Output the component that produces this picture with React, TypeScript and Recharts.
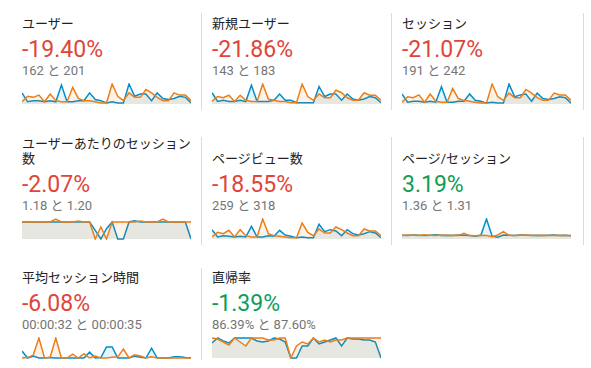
import React from "react";
import { AreaChart, Area, XAxis, YAxis } from "recharts";

// day of month (current range vs previous range)
const days = [
  "1", "2", "3", "4", "5", "6", "7", "8", "9", "10", "11", "12", "13", "14", "15", "16",
  "17", "18", "19", "20", "21", "22", "23", "24", "25", "26", "27", "28", "29", "30", "31",
];

const metricTitles = [
  "ユーザー",
  "新規ユーザー",
  "セッション",
  "ユーザーあたりのセッション数",
  "ページビュー数",
  "ページ/セッション",
  "平均セッション時間",
  "直帰率",
];
const changeLabels = ["-19.40%", "-21.86%", "-21.07%", "-2.07%", "-18.55%", "3.19%", "-6.08%", "-1.39%"];
const changeGood = [false, false, false, false, false, true, false, true];
const compareLabels = [
  "162 と 201",
  "143 と 183",
  "191 と 242",
  "1.18 と 1.20",
  "259 と 318",
  "1.36 と 1.31",
  "00:00:32 と 00:00:35",
  "86.39% と 87.60%",
];

const usersCur = [10, 2, 3, 3, 2, 3, 2, 17, 2, 2, 3, 3, 10, 4, 3, 1, 2, 1, 1, 18, 7, 9, 9, 3, 10, 5, 4, 5, 7, 6, 1];
const usersPrev = [2, 7, 6, 8, 2, 9, 3, 2, 2, 15, 5, 3, 3, 2, 1, 1, 18, 7, 3, 10, 6, 6, 13, 10, 6, 3, 3, 10, 8, 8, 3];

const newUsersCur = [9, 2, 3, 2, 2, 3, 2, 15, 2, 2, 2, 3, 8, 3, 3, 1, 1, 1, 1, 14, 6, 8, 8, 3, 8, 4, 3, 4, 6, 5, 1];
const newUsersPrev = [2, 6, 5, 7, 2, 7, 3, 2, 2, 16, 4, 3, 2, 2, 1, 1, 16, 6, 3, 8, 5, 5, 11, 9, 5, 3, 3, 9, 7, 7, 3];

const sessionsCur = [11, 2, 3, 3, 2, 3, 2, 19, 2, 2, 3, 3, 11, 4, 3, 1, 2, 1, 1, 22, 8, 10, 11, 3, 12, 6, 5, 6, 8, 7, 1];
const sessionsPrev = [2, 8, 7, 10, 2, 11, 3, 2, 2, 17, 6, 4, 3, 2, 1, 1, 22, 8, 4, 12, 7, 7, 16, 12, 7, 4, 4, 12, 10, 10, 4];

const perUserCur = [1, 1, 1, 1, 1, 1, 1, 1, 1, 1, 1, 1, 1, 0.5, 0, 0.6, 1, 0, 0, 1, 1.06, 1, 1, 1, 1, 1, 1, 1, 1, 1, 0];
const perUserPrev = [1, 1, 1, 1, 1, 1, 1.17, 1, 1, 1, 1.05, 1, 1, 0, 0.7, 0, 1, 1, 1, 1, 1, 1.05, 1, 1, 1, 1.17, 1, 1, 1, 1, 1];

const pageviewsCur = [14, 3, 5, 4, 3, 4, 3, 19, 3, 3, 5, 4, 13, 6, 4, 2, 3, 2, 2, 22, 11, 14, 12, 5, 14, 8, 6, 8, 11, 9, 2];
const pageviewsPrev = [3, 10, 8, 13, 3, 14, 5, 3, 3, 30, 8, 5, 4, 3, 2, 2, 24, 10, 5, 15, 9, 9, 18, 14, 9, 5, 5, 15, 12, 12, 5];

const pagesCur = [1.3, 1.2, 1.4, 1.3, 1.2, 1.3, 1.5, 1.2, 1.3, 1.2, 1.4, 1.3, 1.2, 1.0, 1.3, 7.0, 1.0, 0.6, 1.4, 1.3, 1.2, 1.4, 1.3, 1.2, 1.3, 1.2, 1.3, 1.4, 1.2, 1.3, 1.1];
const pagesPrev = [1.2, 1.4, 1.3, 1.2, 1.5, 1.3, 1.2, 1.4, 1.2, 1.3, 1.2, 2.0, 1.2, 1.1, 1.3, 1.2, 0.8, 1.4, 2.6, 1.3, 1.2, 1.3, 1.4, 1.3, 1.2, 1.3, 1.2, 1.2, 1.3, 1.2, 1.2];

// seconds
const durationCur = [72, 0, 20, 0, 0, 4, 0, 0, 0, 0, 0, 0, 60, 0, 4, 112, 112, 0, 0, 0, 20, 8, 0, 100, 0, 0, 0, 12, 12, 4, 0];
const durationPrev = [0, 4, 30, 204, 0, 8, 204, 0, 0, 40, 0, 44, 0, 20, 0, 0, 8, 12, 92, 0, 32, 20, 0, 12, 0, 0, 0, 0, 0, 0, 0];

// percent
const bounceCur = [75, 100, 85, 75, 100, 100, 100, 100, 85, 80, 85, 100, 95, 80, 0, 0, 60, 60, 100, 70, 80, 90, 100, 60, 100, 95, 95, 90, 90, 80, 0];
const bouncePrev = [100, 95, 80, 65, 100, 80, 60, 100, 100, 100, 90, 90, 100, 100, 0, 60, 80, 70, 100, 80, 90, 80, 90, 90, 100, 100, 100, 100, 100, 100, 100];

const seriesCur = [usersCur, newUsersCur, sessionsCur, perUserCur, pageviewsCur, pagesCur, durationCur, bounceCur];
const seriesPrev = [usersPrev, newUsersPrev, sessionsPrev, perUserPrev, pageviewsPrev, pagesPrev, durationPrev, bouncePrev];

const BLUE = "#058dc7";
const ORANGE = "#ed7e17";
const FONT = "Roboto, 'Noto Sans CJK JP', sans-serif";

const colX = [11, 201, 391];
const rowTop = [16, 136, 270];
const rowLines = [1, 2, 1];
const borderRows = [
  { top: 13, bottom: 110, xs: [201, 391, 583] },
  { top: 137, bottom: 245, xs: [201, 391, 583] },
  { top: 268, bottom: 360, xs: [201] },
];

function Sparkline({ index }: { index: number }) {
  const cur = seriesCur[index];
  const prev = seriesPrev[index];
  const data = days.map((d, i) => ({ day: d, cur: cur[i], prev: prev[i] }));
  const domain: [number, number | string] = index === 7 ? [0, 100] : [0, "dataMax"];
  return (
    <AreaChart width={169} height={22} data={data} margin={{ top: 1, right: 0, bottom: 1, left: 0 }}>
      <XAxis dataKey="day" hide />
      <YAxis hide domain={domain} />
      <Area
        type="linear"
        dataKey="cur"
        stroke={BLUE}
        strokeWidth={1.5}
        fill={BLUE}
        fillOpacity={0.1}
        isAnimationActive={false}
        dot={false}
        activeDot={false}
      />
      <Area
        type="linear"
        dataKey="prev"
        stroke={ORANGE}
        strokeWidth={1.5}
        fill={ORANGE}
        fillOpacity={0.1}
        isAnimationActive={false}
        dot={false}
        activeDot={false}
      />
    </AreaChart>
  );
}

function Tile({ index }: { index: number }) {
  const row = Math.floor(index / 3);
  const col = index % 3;
  const lines = rowLines[row];
  return (
    <div
      style={{
        position: "absolute",
        left: colX[col] + 11,
        top: rowTop[row],
        width: 170,
        fontFamily: FONT,
      }}
    >
      <div
        style={{
          height: 15 * lines,
          display: "flex",
          flexDirection: "column",
          justifyContent: "flex-end",
          fontSize: 13,
          lineHeight: "15px",
          color: "#222",
        }}
      >
        <div>{metricTitles[index]}</div>
      </div>
      <div
        style={{
          marginTop: 6,
          height: 26,
          fontSize: 23,
          lineHeight: "26px",
          color: changeGood[index] ? "#0f9d58" : "#e0453a",
          whiteSpace: "nowrap",
        }}
      >
        {changeLabels[index]}
      </div>
      <div style={{ height: 16, fontSize: 13, lineHeight: "16px", color: "#757575", whiteSpace: "nowrap" }}>
        {compareLabels[index]}
      </div>
      <div style={{ marginTop: 4 }}>
        <Sparkline index={index} />
      </div>
    </div>
  );
}

export default function App() {
  return (
    <div style={{ position: "absolute", left: 0, top: 0, width: 591, height: 368, background: "#fff", overflow: "hidden" }}>
      {borderRows.map((r, ri) =>
        r.xs.map((x) => (
          <div
            key={`b-${ri}-${x}`}
            style={{ position: "absolute", left: x, top: r.top, width: 1, height: r.bottom - r.top, background: "#dcdcdc" }}
          />
        ))
      )}
      {metricTitles.map((_, i) => (
        <Tile key={i} index={i} />
      ))}
    </div>
  );
}
